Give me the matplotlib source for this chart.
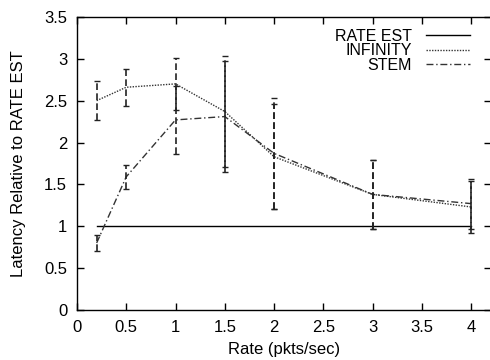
import matplotlib.pyplot as plt
import numpy as np

plt.rcParams['font.family'] = ['Liberation Sans', 'DejaVu Sans']

# rate values (pkts/sec)
rates = [0.2, 0.5, 1, 1.5, 2, 3, 4]

# latency relative to RATE EST
rate_est = [1, 1, 1, 1, 1, 1, 1]
infinity = [2.50, 2.66, 2.70, 2.37, 1.83, 1.38, 1.23]
infinity_err = [0.23, 0.22, 0.31, 0.665, 0.63, 0.41, 0.31]
stem = [0.80, 1.59, 2.27, 2.31, 1.87, 1.38, 1.27]
stem_err = [0.09, 0.14, 0.41, 0.66, 0.66, 0.41, 0.30]

xticks = [0, 0.5, 1, 1.5, 2, 2.5, 3, 3.5, 4]
yticks = [0, 0.5, 1, 1.5, 2, 2.5, 3, 3.5]


def plot_chart():
    fig = plt.figure(figsize=(4.9, 3.6), dpi=100)
    ax = fig.add_axes([0.157, 0.139, 0.845, 0.814])

    ax.plot(rates, rate_est, color='black', linewidth=1, label='RATE EST')
    ax.plot(rates, infinity, color='#333333', linewidth=1,
            linestyle=(0, (1, 1)), label='INFINITY')
    ax.plot(rates, stem, color='#333333', linewidth=1,
            linestyle=(0, (5, 2, 1, 2)), label='STEM')

    for vals, errs in [(infinity, infinity_err), (stem, stem_err)]:
        eb = ax.errorbar(rates, vals, yerr=errs, fmt='none', ecolor='#222222',
                         elinewidth=1.2, capsize=2.5, capthick=1)
        eb[2][0].set_linestyle((0, (4, 2)))

    ax.set_xlim(0, 4.2)
    ax.set_ylim(0, 3.5)
    ax.set_xticks(xticks)
    ax.set_xticklabels([f'{t:g}' for t in xticks], fontsize=12)
    ax.set_yticks(yticks)
    ax.set_yticklabels([f'{t:g}' for t in yticks], fontsize=12)
    ax.tick_params(direction='in', length=5, top=True, right=True, width=1, pad=7)
    for s in ax.spines.values():
        s.set_linewidth(1)

    ax.set_xlabel('Rate (pkts/sec)', fontsize=12)
    ax.set_ylabel('Latency Relative to RATE EST', fontsize=12)
    ax.xaxis.set_label_coords(0.5, -0.108)
    ax.yaxis.set_label_coords(-0.122, 0.5)

    ax.legend(loc='upper right', frameon=False, markerfirst=False, fontsize=11.5,
              handlelength=2.8, handletextpad=0.85, labelspacing=-0.02,
              borderpad=0, borderaxespad=0, bbox_to_anchor=(0.95, 0.96))

    plt.savefig('out.png', dpi=100)


if __name__ == '__main__':
    plot_chart()
